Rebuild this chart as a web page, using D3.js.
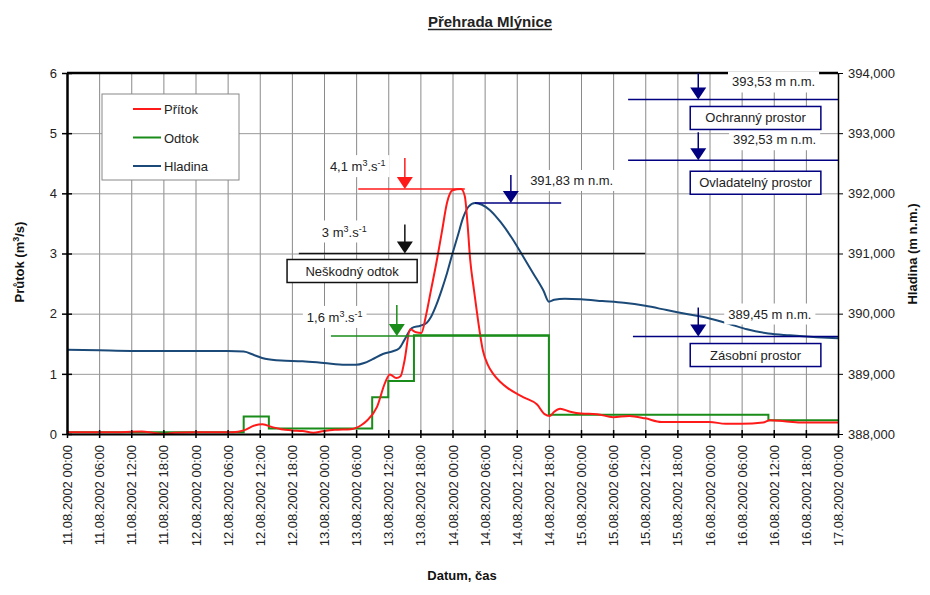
<!DOCTYPE html>
<html>
<head>
<meta charset="utf-8">
<script src="https://cdnjs.cloudflare.com/ajax/libs/d3/7.8.5/d3.min.js"></script>
<style>
body{margin:0;background:#fff}
svg{font-family:"Liberation Sans",Arial,sans-serif}
</style>
</head>
<body>
<svg width="930" height="595"></svg>
<script>
// cas v hodinach od 11.08.2002 00:00
var hladina = [[0,389.40],[6,389.39],[12,389.38],[18,389.38],[24,389.38],[30,389.38],[33,389.37],
    [35,389.31],[37,389.25],[40,389.22],[44,389.21],[48,389.18],[52,389.15],[54,389.15],[55.5,389.18],
    [57,389.24],[59,389.33],[61,389.38],[62,389.42],[63,389.56],[64.4,389.76],[66,389.80],[67.2,389.85],
    [68,389.95],[69,390.15],[70,390.40],[71,390.68],[72,391.0],[73,391.3],[74,391.6],[75,391.78],
    [76.2,391.84],[77.5,391.81],[79,391.72],[81,391.52],[83,391.27],[85,390.98],[87,390.68],[89,390.38],
    [90,390.20],[91,390.23],[93,390.25],[96,390.24],[100,390.21],[104,390.18],[108,390.13],[112,390.06],
    [116,389.99],[120,389.92],[124,389.82],[127,389.74],[131,389.67],[135,389.64],[140,389.61],[144,389.59]];
var pritok = [[0,0.03],[8,0.03],[14,0.04],[16,0.02],[18,0.0],[20,0.02],[24,0.03],[31,0.03],[33,0.06],
    [35,0.14],[36.5,0.16],[38.5,0.11],[40,0.08],[42,0.06],[44,0.05],[46,0.02],[48,0.05],[50,0.07],
    [53,0.08],[55,0.15],[56,0.22],[57.9,0.45],[59.4,0.85],[60.3,0.99],[61.5,0.93],[62.3,0.96],[63,1.2],
    [64.1,1.74],[65.2,1.69],[66.2,1.68],[67,1.95],[68,2.4],[69,2.85],[70,3.35],[71,3.85],[72,4.05],
    [73.6,4.07],[74.3,3.95],[74.8,3.5],[75.3,2.9],[76,2.4],[76.6,2.0],[77.7,1.38],[78.6,1.15],[79.6,1.0],
    [81,0.86],[82.2,0.77],[84,0.67],[85.5,0.6],[87.8,0.49],[89.2,0.33],[90.2,0.3],[91,0.37],[92.1,0.42],
    [94,0.37],[96,0.34],[99,0.33],[102,0.28],[105,0.3],[108,0.26],[111,0.2],[116,0.2],[120,0.2],
    [123,0.17],[126,0.17],[130,0.19],[131.3,0.23],[134,0.21],[137,0.19],[144,0.19]];
var odtok = [[0,0.03],[33,0.29],[37.7,0.09],[57,0.61],[60,0.88],[64.8,1.64],[90,0.32],[131,0.23],[144,0.23]];

var flowMarks = [
    {num:'4,1', value:4.07, from:54.4, to:74.3, arrowAt:63.1, textAt:49.1},
    {num:'3', value:3.0, from:43.3, to:108, arrowAt:63.1, textAt:47.6},
    {num:'1,6', value:1.63, from:49.3, to:90, arrowAt:61.6, textAt:44.8}];
var levelMarks = [
    {label:'393,53 m n.m.', value:393.56, from:104.8, to:144, arrowAt:117.9, textAt:124.2},
    {label:'392,53 m n.m.', value:392.55, from:104.8, to:144, arrowAt:117.9, textAt:124.4},
    {label:'391,83 m n.m.', value:391.84, from:76.2, to:92.3, arrowAt:82.9, textAt:86.5},
    {label:'389,45 m n.m.', value:389.62, from:105.7, to:144, arrowAt:117.9, textAt:123.5}];
var zones = [
    {name:'Ochranný prostor', level:393.56, from:116.4, to:140.8},
    {name:'Ovladatelný prostor', level:392.55, from:116.4, to:140.8},
    {name:'Zásobní prostor', level:389.62, from:116.4, to:140.8}];
var neskodny = {name:'Neškodný odtok', level:3.0, from:41.1, to:65.4};
var legendNames = ['Přítok','Odtok','Hladina'];

// vzhled
var flowColors = ['#ff1a1a','#111','#1a8c1a'];
var flowLay = [{dy:-18, top:-31},{dy:-17, top:-29},{dy:-14, top:-31}];
var levelLay = [{dy:-13, top:-28},{dy:-16, top:-28},{dy:-18, top:-28},{dy:-18, top:-29}];
var zoneOff = [7, 11, 7];
var navy = '#000080';

var svg = d3.select('svg');
var t0 = new Date(2002,7,11);
var T = h => new Date(t0.getTime() + h*36e5);
var x = d3.scaleTime().domain([t0, new Date(2002,7,17)]).range([67,838]);
var yL = d3.scaleLinear().domain([0,6]).range([434,73]);
var yR = d3.scaleLinear().domain([388,394]).range([434,73]);

// mrizka
let xGrid = d3.axisBottom(x).ticks(d3.timeHour.every(6)).tickSize(-361).tickFormat('');
svg.append('g').attr('transform','translate(0,434)').call(xGrid)
    .call(g => g.select('.domain').remove())
    .selectAll('line').attr('stroke','#8a8a8a');
let yGrid = d3.axisLeft(yL).ticks(6).tickSize(-771).tickFormat('');
svg.append('g').attr('transform','translate(67,0)').call(yGrid)
    .call(g => g.select('.domain').remove())
    .selectAll('line').attr('stroke','#9a9a9a');
svg.append('line').attr('x1',67).attr('x2',838).attr('y1',73).attr('y2',73)
    .attr('stroke','#000').attr('stroke-width',2.5);

// krivky
let lineFlow = d3.line().x(d=>x(T(d[0]))).y(d=>yL(d[1]));
let lineLevel = d3.line().x(d=>x(T(d[0]))).y(d=>yR(d[1])).curve(d3.curveMonotoneX);
svg.append('path').datum(hladina).attr('d',lineLevel)
    .attr('fill','none').attr('stroke','#1c4a78').attr('stroke-width',2);
svg.append('path').datum(odtok).attr('d',lineFlow.curve(d3.curveStepAfter))
    .attr('fill','none').attr('stroke','#1a8c1a').attr('stroke-width',2);
svg.append('path').datum(pritok).attr('d',lineFlow.curve(d3.curveMonotoneX))
    .attr('fill','none').attr('stroke','#ff1a1a').attr('stroke-width',2);

function arrow(xp, yTop, yTip, color){
    svg.append('line').attr('x1',xp).attr('x2',xp).attr('y1',yTop).attr('y2',yTip-8)
        .attr('stroke',color).attr('stroke-width',1.5);
    svg.append('path').attr('d',`M${xp-8},${yTip-12}L${xp+8},${yTip-12}L${xp},${yTip}Z`)
        .attr('fill',color);
}
function label(xp, yp, build){
    let g = svg.append('g');
    let r = g.append('rect').attr('fill','#fff');
    let t = g.append('text').attr('x',xp).attr('y',yp).attr('font-size',13).attr('fill','#222');
    build(t);
    let b = t.node().getBBox();
    r.attr('x',b.x-4).attr('y',b.y-3).attr('width',b.width+8).attr('height',b.height+6);
}
function unit(t, num){
    t.append('tspan').text(num+' m');
    t.append('tspan').attr('dy',-5).attr('font-size',9).text('3');
    t.append('tspan').attr('dy',5).text('.s');
    t.append('tspan').attr('dy',-5).attr('font-size',9).text('-1');
}
function box(x0, x1, yTop, name, color){
    svg.append('rect').attr('x',x0).attr('y',yTop).attr('width',x1-x0).attr('height',23)
        .attr('fill','#fff').attr('stroke',color).attr('stroke-width',1.5);
    svg.append('text').attr('x',(x0+x1)/2).attr('y',yTop+16).attr('text-anchor','middle')
        .attr('font-size',13).attr('fill','#222').text(name);
}

// znacky prutoku
flowMarks.forEach((m,i) => {
    let yy = yL(m.value), c = flowColors[i];
    svg.append('line').attr('x1',x(T(m.from))).attr('x2',x(T(m.to))).attr('y1',yy).attr('y2',yy)
        .attr('stroke',c).attr('stroke-width',1.5);
    arrow(x(T(m.arrowAt)), yy+flowLay[i].top, yy, c);
    label(x(T(m.textAt)), yy+flowLay[i].dy, t => unit(t, m.num));
});
// znacky hladin
levelMarks.forEach((m,i) => {
    let yy = yR(m.value);
    svg.append('line').attr('x1',x(T(m.from))).attr('x2',x(T(m.to))).attr('y1',yy).attr('y2',yy)
        .attr('stroke',navy).attr('stroke-width',1.5);
    arrow(x(T(m.arrowAt)), Math.max(73, yy+levelLay[i].top), yy, navy);
    label(x(T(m.textAt)), yy+levelLay[i].dy, t => t.text(m.label));
});
zones.forEach((z,i) => box(x(T(z.from)), x(T(z.to)), yR(z.level)+zoneOff[i], z.name, navy));
box(x(T(neskodny.from)), x(T(neskodny.to)), yL(neskodny.level)+6, neskodny.name, '#111');

// legenda
let leg = svg.append('g');
leg.append('rect').attr('x',102).attr('y',94).attr('width',137).attr('height',86)
    .attr('fill','#fff').attr('stroke','#888').attr('stroke-width',1);
['#ff1a1a','#1a8c1a','#1c4a78'].forEach((c,i) => {
    leg.append('line').attr('x1',133).attr('x2',161).attr('y1',109+i*28.5).attr('y2',109+i*28.5)
        .attr('stroke',c).attr('stroke-width',2);
    leg.append('text').attr('x',164).attr('y',114+i*28.5).attr('font-size',13).attr('fill','#222')
        .text(legendNames[i]);
});

// osy
let xAxis = d3.axisBottom(x).ticks(d3.timeHour.every(6))
    .tickFormat(d3.timeFormat('%d.%m.%Y %H:%M')).tickSizeInner(4).tickSizeOuter(0);
let gx = svg.append('g').attr('transform','translate(0,434)').call(xAxis);
gx.select('.domain').attr('stroke-width',2);
gx.selectAll('line').attr('y1',-4).attr('stroke-width',1.5);
gx.selectAll('text').attr('transform','rotate(-90)').attr('text-anchor','end')
    .attr('x',-11).attr('y',0).attr('dy','0.35em')
    .attr('font-size',13).attr('font-family','"Liberation Sans",Arial,sans-serif').attr('fill','#222');

let yAxisL = d3.axisLeft(yL).ticks(6).tickSizeInner(5).tickSizeOuter(0).tickPadding(5);
let gl = svg.append('g').attr('transform','translate(67,0)').call(yAxisL);
gl.select('.domain').attr('stroke-width',2.5);
gl.selectAll('line').attr('x1',5).attr('stroke-width',1.5);
gl.selectAll('text').attr('font-size',13).attr('font-family','"Liberation Sans",Arial,sans-serif').attr('fill','#222');

let yAxisR = d3.axisRight(yR).ticks(6).tickSizeInner(5).tickSizeOuter(0).tickPadding(5)
    .tickFormat(d => d3.format('.3f')(d).replace('.',','));
let gr = svg.append('g').attr('transform','translate(838,0)').call(yAxisR);
gr.select('.domain').attr('stroke-width',1.5);
gr.selectAll('text').attr('font-size',13).attr('font-family','"Liberation Sans",Arial,sans-serif').attr('fill','#222');

// popisky
let title = svg.append('text').attr('x',490).attr('y',27).attr('text-anchor','middle')
    .attr('font-size',15).attr('font-weight','bold').attr('fill','#222').text('Přehrada Mlýnice');
let tb = title.node().getBBox();
svg.append('line').attr('x1',tb.x).attr('x2',tb.x+tb.width).attr('y1',29.5).attr('y2',29.5)
    .attr('stroke','#222').attr('stroke-width',1.5);

let ylab = svg.append('text').attr('transform','translate(24,262) rotate(-90)')
    .attr('text-anchor','middle').attr('font-size',13).attr('font-weight','bold').attr('fill','#111');
ylab.append('tspan').text('Průtok (m');
ylab.append('tspan').attr('dy',-5).attr('font-size',9).text('3');
ylab.append('tspan').attr('dy',5).text('/s)');

svg.append('text').attr('transform','translate(917,254) rotate(-90)')
    .attr('text-anchor','middle').attr('font-size',13).attr('font-weight','bold').attr('fill','#111')
    .text('Hladina (m n.m.)');
svg.append('text').attr('x',462).attr('y',580).attr('text-anchor','middle')
    .attr('font-size',13).attr('font-weight','bold').attr('fill','#111').text('Datum, čas');
</script>
</body>
</html>
